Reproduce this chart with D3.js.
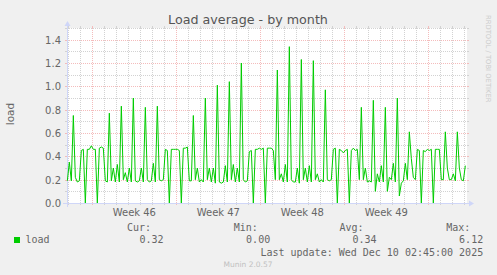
<!DOCTYPE html>
<html><head><meta charset="utf-8">
<script src="https://cdn.jsdelivr.net/npm/d3@7"></script>
<style>body{margin:0;background:#f0f0f0} svg{display:block}</style>
</head><body><svg id="c" width="497" height="275"></svg>
<script>
// ---- data ----
const chartTitle = "Load average - by month";
const yAxisTitle = "load";
const seriesName = "load";
const seriesColor = "#00cc00";
const sampleStart = new Date(2025, 10, 6, 22, 0);   // first sample
const sampleStepHours = 4;
const loadValues = [
  0.19,0.35,0.19,0.75,0.22,0.18,
  0.19,0.45,0.46,0.00,0.46,0.46,
  0.49,0.46,0.46,0.00,0.47,0.48,
  0.47,0.19,0.18,0.77,0.19,0.30,
  0.18,0.33,0.18,0.83,0.20,0.26,
  0.18,0.30,0.18,0.90,0.19,0.18,
  0.19,0.30,0.18,0.82,0.20,0.18,
  0.19,0.34,0.18,0.83,0.20,0.19,
  0.20,0.46,0.45,0.00,0.46,0.46,
  0.46,0.46,0.45,0.00,0.47,0.47,
  0.48,0.19,0.19,0.75,0.20,0.30,
  0.18,0.20,0.18,0.90,0.20,0.30,
  0.18,0.30,0.17,1.01,0.18,0.17,
  0.18,0.32,0.18,1.04,0.20,0.33,
  0.18,0.30,0.18,1.20,0.20,0.18,
  0.19,0.44,0.45,0.00,0.46,0.46,
  0.47,0.46,0.47,0.00,0.47,0.47,
  0.47,0.45,0.20,1.14,0.20,0.25,
  0.18,0.33,0.18,1.34,0.20,0.18,
  0.18,0.30,0.17,1.23,0.20,0.30,
  0.18,0.32,0.18,1.22,0.20,0.25,
  0.18,0.20,0.18,0.97,0.20,0.19,
  0.20,0.46,0.47,0.00,0.46,0.45,
  0.43,0.45,0.46,0.00,0.45,0.47,
  0.45,0.46,0.20,0.82,0.20,0.30,
  0.18,0.19,0.18,0.88,0.10,0.25,
  0.18,0.32,0.18,0.82,0.10,0.22,
  0.20,0.34,0.18,0.90,0.06,0.17,
  0.19,0.34,0.20,0.61,0.38,0.22,
  0.20,0.46,0.45,0.00,0.45,0.44,
  0.46,0.45,0.46,0.00,0.46,0.46,
  0.46,0.20,0.20,0.61,0.30,0.20,
  0.20,0.25,0.19,0.61,0.30,0.20,
  0.19,0.32
];
const timeDomain = [new Date(2025, 10, 6, 21, 20), new Date(2025, 11, 10, 5, 20)];
const yDomain = [0, 1.5];
const yTickLabels = ["0.0","0.2","0.4","0.6","0.8","1.0","1.2","1.4"];
const weekLabels = ["Week 46","Week 47","Week 48","Week 49"];
const weekLabelDates = [new Date(2025,10,12,12), new Date(2025,10,19,12), new Date(2025,10,26,12), new Date(2025,11,3,12)];
const legendHeaders = ["Cur:","Min:","Avg:","Max:"];
const legendValues = ["0.32","0.00","0.34","6.12"];
const lastUpdate = "Last update: Wed Dec 10 02:45:00 2025";
const footerText = "Munin 2.0.57";
const watermark = "RRDTOOL / TOBI OETIKER";

// ---- drawing ----
const svg = d3.select("#c");
const X0 = 67, X1 = 467, Y0 = 203, Y1 = 28;
const x = d3.scaleTime().domain(timeDomain).range([X0, X1]);
const y = d3.scaleLinear().domain(yDomain).range([Y0, Y1]);
const FONT = "DejaVu Sans, Verdana, sans-serif";
const MONO = "DejaVu Sans Mono, monospace";
const TXT = "#666666";
const GRID = "#d2d2d2", MGRID = "#f4bcbc", AXIS = "#cfd6f8";

svg.append("rect").attr("width", 497).attr("height", 275).attr("fill", "#f0f0f0");
svg.append("rect").attr("x", X0).attr("y", Y1).attr("width", X1 - X0).attr("height", Y0 - Y1).attr("fill", "#ffffff");

const g = svg.append("g").attr("shape-rendering", "crispEdges");

// horizontal grid every 0.1, major every 0.2
const hVals = d3.range(1, 16).map(i => i / 10);
hVals.forEach((v, k) => {
  const major = (k + 1) % 2 === 0;
  const yy = Math.round(y(v)) + 0.5;
  const col = major ? MGRID : GRID;
  g.append("line").attr("x1", X0 - 2).attr("x2", X0).attr("y1", yy).attr("y2", yy).attr("stroke", col);
  g.append("line").attr("x1", X1).attr("x2", X1 + 2).attr("y1", yy).attr("y2", yy).attr("stroke", col);
  g.append("line").attr("x1", X0).attr("x2", X1).attr("y1", yy).attr("y2", yy)
    .attr("stroke", col).attr("stroke-dasharray", "1,1");
});

// vertical grid: days minor, weeks (Sunday) major
const days = d3.timeDay.range(timeDomain[0], timeDomain[1]);
days.forEach(d => {
  const major = d.getDay() === 0;
  const xx = Math.round(x(d)) + 0.5;
  const col = major ? MGRID : GRID;
  g.append("line").attr("x1", xx).attr("x2", xx).attr("y1", Y0).attr("y2", Y0 + 2).attr("stroke", col);
  g.append("line").attr("x1", xx).attr("x2", xx).attr("y1", Y1 - 2).attr("y2", Y1).attr("stroke", col);
  g.append("line").attr("x1", xx).attr("x2", xx).attr("y1", Y0).attr("y2", Y1)
    .attr("stroke", col).attr("stroke-dasharray", "1,1");
});

// axes
g.append("line").attr("x1", X0 - 4).attr("x2", X1 + 4).attr("y1", Y0 + 0.5).attr("y2", Y0 + 0.5).attr("stroke", AXIS);
g.append("line").attr("x1", X0 + 0.5).attr("x2", X0 + 0.5).attr("y1", Y0 + 4).attr("y2", Y1 - 4).attr("stroke", AXIS);
svg.append("path").attr("d", `M${X1+2},${Y0-2.5}L${X1+2},${Y0+3.5}L${X1+7},${Y0+0.5}Z`).attr("fill", AXIS);
svg.append("path").attr("d", `M${X0-2.5},${Y1-2}L${X0+3.5},${Y1-2}L${X0+0.5},${Y1-7}Z`).attr("fill", AXIS);

// y tick labels
yTickLabels.forEach(t => {
  svg.append("text").attr("x", 61).attr("y", Math.round(y(+t)) + 4)
    .attr("text-anchor", "end").attr("font-family", FONT).attr("font-size", 10)
    .attr("fill", TXT).text(t);
});
// week labels
weekLabels.forEach((t, i) => {
  svg.append("text").attr("x", x(weekLabelDates[i])).attr("y", 216.3)
    .attr("text-anchor", "middle").attr("font-family", FONT).attr("font-size", 10)
    .attr("fill", TXT).text(t);
});

// data line
const line = d3.line()
  .x((v, i) => x(d3.timeHour.offset(sampleStart, i * sampleStepHours)))
  .y(v => y(v));
svg.append("path").datum(loadValues).attr("d", line)
  .attr("fill", "none").attr("stroke", seriesColor).attr("stroke-width", 1);

// title
svg.append("text").attr("x", 248).attr("y", 24).attr("text-anchor", "middle")
  .attr("font-family", FONT).attr("font-size", 12.7).attr("fill", "#555").text(chartTitle);
// y axis title
svg.append("text").attr("transform", "translate(14,114) rotate(-90)").attr("text-anchor", "middle")
  .attr("font-family", FONT).attr("font-size", 10.5).attr("fill", TXT).text(yAxisTitle);
// watermark
svg.append("text").attr("transform", "translate(485.5,15) rotate(90)")
  .attr("font-family", FONT).attr("font-size", 6.8).attr("fill", "#cccccc").text(watermark);

// legend
const hdrX = [127, 233.7, 339.4, 446.3];
const valX = [163.6, 270.2, 376.6, 483.2];
legendHeaders.forEach((h, i) => {
  svg.append("text").attr("x", hdrX[i]).attr("y", 231.3).attr("font-family", MONO)
    .attr("font-size", 10).attr("fill", TXT).text(h);
  svg.append("text").attr("x", valX[i]).attr("y", 243.3).attr("text-anchor", "end")
    .attr("font-family", MONO).attr("font-size", 10).attr("fill", TXT).text(legendValues[i]);
});
svg.append("rect").attr("x", 14).attr("y", 237).attr("width", 6).attr("height", 6).attr("fill", seriesColor);
svg.append("text").attr("x", 25.5).attr("y", 243.3).attr("font-family", MONO)
  .attr("font-size", 10).attr("fill", TXT).text(seriesName);
svg.append("text").attr("x", 483.2).attr("y", 255.5).attr("text-anchor", "end")
  .attr("font-family", MONO).attr("font-size", 10).attr("fill", TXT).text(lastUpdate);
svg.append("text").attr("x", 248).attr("y", 266.5).attr("text-anchor", "middle")
  .attr("font-family", FONT).attr("font-size", 7.5).attr("fill", "#c0c0c0").text(footerText);
</script></body></html>
